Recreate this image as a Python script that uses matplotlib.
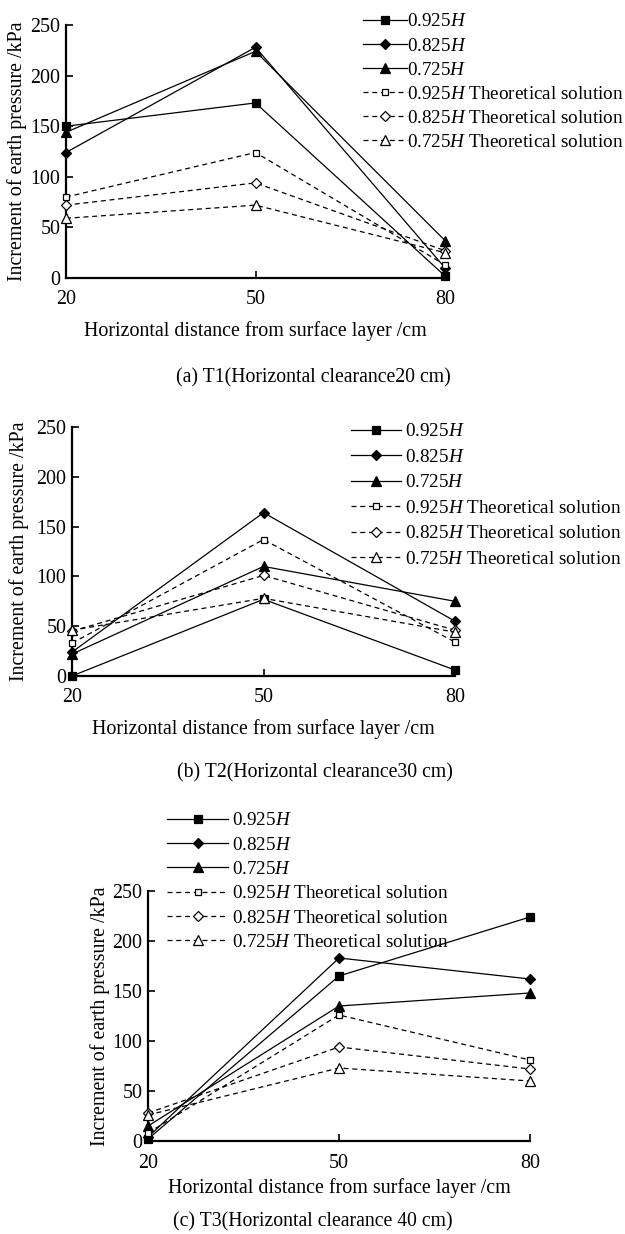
import matplotlib
matplotlib.use("Agg")
import matplotlib.pyplot as plt

plt.rcParams['font.family'] = ['Liberation Serif', 'DejaVu Serif']
plt.rcParams['mathtext.fontset'] = 'custom'
plt.rcParams['mathtext.rm'] = 'Liberation Serif'
plt.rcParams['mathtext.it'] = 'Liberation Serif:italic'

# Horizontal distance from surface layer (cm)
distance = [20, 50, 80]

# T1 (horizontal clearance 20 cm)
t1_925 = [150, 173, 2]
t1_825 = [124, 228, 10]
t1_725 = [144, 224, 37]
t1_925_theory = [80, 124, 13]
t1_825_theory = [72, 94, 27]
t1_725_theory = [59, 72, 25]

# T2 (horizontal clearance 30 cm)
t2_925 = [0, 77, 6]
t2_825 = [24, 164, 55]
t2_725 = [22, 110, 75]
t2_925_theory = [33, 137, 34]
t2_825_theory = [45, 101, 46]
t2_725_theory = [46, 78, 44]

# T3 (horizontal clearance 40 cm)
t3_925 = [2, 165, 224]
t3_825 = [4, 183, 162]
t3_725 = [15, 135, 148]
t3_925_theory = [8, 126, 81]
t3_825_theory = [28, 94, 72]
t3_725_theory = [26, 73, 60]

series_labels = [
    "0.925$\\mathit{H}$",
    "0.825$\\mathit{H}$",
    "0.725$\\mathit{H}$",
    "0.925$\\mathit{H}$ Theoretical solution",
    "0.825$\\mathit{H}$ Theoretical solution",
    "0.725$\\mathit{H}$ Theoretical solution",
]
yticks = [0, 50, 100, 150, 200, 250]
xticks = [20, 50, 80]
xlabel_text = "Horizontal distance from surface layer /cm"
ylabel_text = "Increment of earth pressure /kPa"

W, H = 625, 1234
fig = plt.figure(figsize=(W / 100, H / 100), dpi=100)

FS_AX = 14.4     # ticks and axis titles
FS_LEG = 13.8    # legend
FS_CAP = 14.2    # panel captions

styles = [
    dict(ls='-', marker='s', mfc='black', ms=5.5),
    dict(ls='-', marker='D', mfc='black', ms=5.5),
    dict(ls='-', marker='^', mfc='black', ms=7),
    dict(ls=(0, (4, 3)), marker='s', mfc='white', ms=4.8),
    dict(ls=(0, (4, 3)), marker='D', mfc='white', ms=5),
    dict(ls=(0, (4, 3)), marker='^', mfc='white', ms=6.5),
]


def fx(px):
    return px / W


def fy(py):
    return 1 - py / H


def draw_panel(box, data, legend_xy, handlelength, textpad, labelspacing,
               ylabel_x, xlabel_y, caption, caption_xy):
    left, right, top, bottom = box
    ax = fig.add_axes([fx(left), fy(bottom), (right - left) / W, (bottom - top) / H])
    for vals, lab, st in zip(data, series_labels, styles):
        ax.plot(distance, vals, color='black', lw=0.9, ls=st['ls'], marker=st['marker'],
                mfc=st['mfc'], mec='black', mew=0.9, ms=st['ms'], label=lab,
                clip_on=False, zorder=3)
    ax.set_xlim(20, 80)
    ax.set_ylim(0, 250)
    ax.set_xticks(xticks)
    ax.set_yticks(yticks)
    ax.tick_params(direction='in', length=5, width=1.2, labelsize=FS_AX)
    ax.tick_params(axis='x', pad=9)
    ax.tick_params(axis='y', pad=4)
    for s in ('top', 'right'):
        ax.spines[s].set_visible(False)
    for s in ('left', 'bottom'):
        ax.spines[s].set_linewidth(1.6)
    # axis titles placed in figure pixels
    fig.text(fx((left + right) / 2), fy(xlabel_y), xlabel_text, fontsize=FS_AX,
             ha='center', va='center')
    fig.text(fx(ylabel_x), fy((top + bottom) / 2), ylabel_text, fontsize=FS_AX,
             ha='center', va='center', rotation=90)
    leg = ax.legend(loc='upper left', bbox_to_anchor=(fx(legend_xy[0]), fy(legend_xy[1])),
                    bbox_transform=fig.transFigure, frameon=False, fontsize=FS_LEG,
                    handlelength=handlelength, handletextpad=textpad,
                    labelspacing=labelspacing, borderpad=0, borderaxespad=0)
    leg.set_zorder(5)
    fig.text(fx(caption_xy[0]), fy(caption_xy[1]), caption, fontsize=FS_CAP,
             ha='center', va='center')
    return ax


draw_panel((66, 445, 25, 278),
           [t1_925, t1_825, t1_725, t1_925_theory, t1_825_theory, t1_725_theory],
           (363, 13), 2.3, 0.0, 0.35, 17, 331,
           "(a) T1(Horizontal clearance20 cm)", (313, 378))

draw_panel((72, 455, 427, 676),
           [t2_925, t2_825, t2_725, t2_925_theory, t2_825_theory, t2_725_theory],
           (351, 423), 2.6, 0.22, 0.42, 19, 729,
           "(b) T2(Horizontal clearance30 cm)", (315, 773))

draw_panel((148, 530, 891, 1141),
           [t3_925, t3_825, t3_725, t3_925_theory, t3_825_theory, t3_725_theory],
           (167, 812), 3.2, 0.2, 0.36, 100, 1188,
           "(c) T3(Horizontal clearance 40 cm)", (313, 1222))

fig.savefig("out.png", dpi=100, facecolor='white')
